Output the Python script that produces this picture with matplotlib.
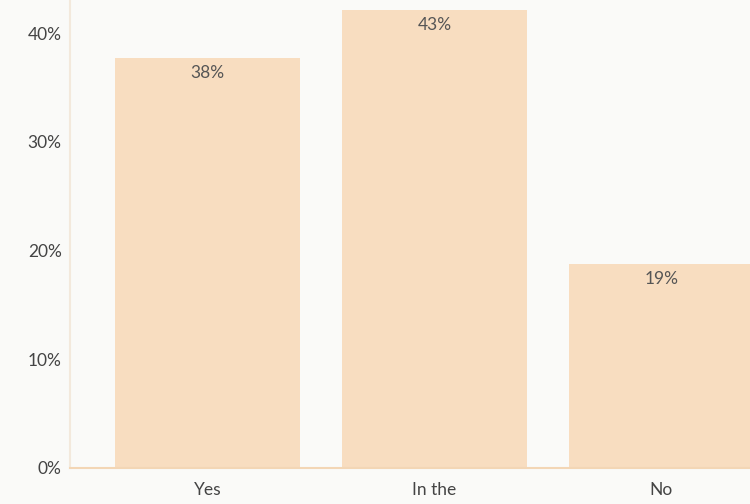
import matplotlib
matplotlib.use("Agg")
import matplotlib.pyplot as plt
from matplotlib.ticker import FuncFormatter

categories = ["Yes", "In the", "No"]
values = [37.7, 42.1, 18.8]
value_labels = ["38%", "43%", "19%"]
y_ticks = [0, 10, 20, 30, 40]

plt.rcParams['font.family'] = ['Lato', 'DejaVu Sans']

fig = plt.figure(figsize=(7.5, 5.04), dpi=100)
bg = "#fafaf8"
fig.patch.set_facecolor(bg)
ax = fig.add_axes([70/750, 36/504, 1 - 70/750, 1 - 36/504])
ax.set_facecolor(bg)

x = list(range(len(categories)))
bars = ax.bar(x, values, width=0.815, color="#f8ddc0", edgecolor="none")
for b, lab in zip(bars, value_labels):
    ax.annotate(lab, (b.get_x() + b.get_width() / 2, b.get_height()),
                xytext=(0, -15), textcoords="offset pixels",
                ha="center", va="center", fontsize=12.5, color="#555555")

ax.set_xlim(-0.606, 2.39)
ax.set_ylim(0, 43.05)
ax.set_xticks(x)
ax.set_xticklabels(categories, fontsize=12.5, color="#444444")
ax.set_yticks(y_ticks)
ax.yaxis.set_major_formatter(FuncFormatter(lambda v, p: f"{v:.0f}%"))
ax.tick_params(axis="y", length=0, pad=6, labelsize=12.5, labelcolor="#444444")
ax.tick_params(axis="x", length=0, pad=10)

for s in ["top", "right"]:
    ax.spines[s].set_visible(False)
ax.spines["left"].set_color("#f3e9dc")
ax.spines["left"].set_linewidth(1.5)
ax.spines["bottom"].set_color("#f3d6b5")
ax.spines["bottom"].set_linewidth(1.5)

fig.savefig("out.png", dpi=100, facecolor=bg)
